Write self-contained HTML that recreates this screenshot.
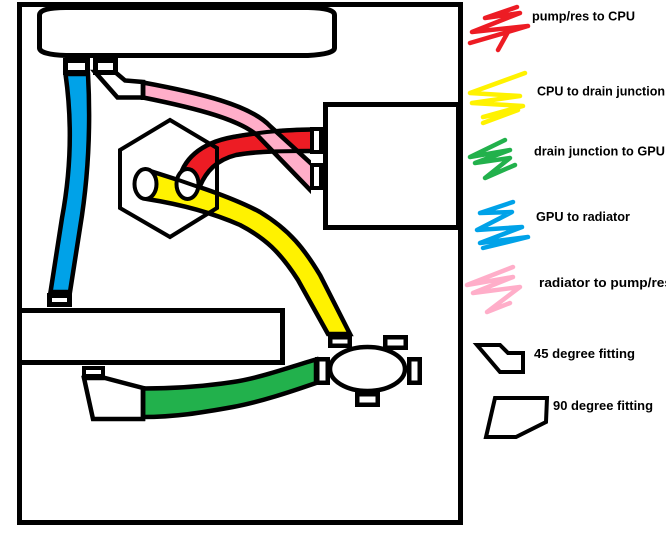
<!DOCTYPE html>
<html>
<head>
<meta charset="utf-8">
<style>
html,body{margin:0;padding:0;background:#fff;width:666px;height:535px;overflow:hidden;}
svg{display:block;}
text{font-family:"Liberation Sans",Arial,sans-serif;font-weight:bold;font-size:12.5px;fill:#000;}
</style>
</head>
<body>
<svg width="666" height="535" viewBox="0 0 666 535" xmlns="http://www.w3.org/2000/svg">
<defs>
<clipPath id="cpuclip"><rect x="0" y="0" width="311" height="535"/></clipPath>
</defs>
<rect x="0" y="0" width="666" height="535" fill="#fff"/>

<!-- case -->
<rect x="19.5" y="4.5" width="441" height="518" fill="none" stroke="#000" stroke-width="5"/>

<!-- reservoir -->
<path d="M39.5,15 Q40,7.5 66,7.5 L308,7.5 Q334.5,8 334.5,15 L334.5,48 Q334.5,54 308,55.5 L66,55.5 Q40,54.5 39.5,48 Z" fill="#fff" stroke="#000" stroke-width="5"/>

<!-- GPU box -->
<rect x="19.5" y="310.5" width="263" height="52" fill="#fff" stroke="#000" stroke-width="5"/>

<!-- CPU box -->
<rect x="325.5" y="104.5" width="133" height="123" fill="#fff" stroke="#000" stroke-width="5"/>

<!-- blue tube -->
<path d="M65.5,74 C72,120 71,170 62,218 L50.5,292 L70,292 L80,228 C88,180 91,130 88,74 Z" fill="#00A2E8" stroke="#000" stroke-width="4.5"/>

<!-- green tube -->
<path d="M316,359.5 C290,367 260,378 233,382 C200,387 170,388.5 143,388.5 L143,417 C175,417 200,413 233,407 C260,402 290,392 316,383 Z" fill="#22B14C" stroke="#000" stroke-width="4.5"/>

<!-- yellow tube -->
<path d="M147,170 C185,182 230,196 260,212 C290,230 305,250 320,275 L350,334 L328,334 L298,280 C280,252 265,238 240,225 C215,214 185,205 147,199 Z" fill="#FFF200" stroke="#000" stroke-width="4.5"/>

<g clip-path="url(#cpuclip)">
<!-- red tube -->
<path d="M179,182 C182,160 200,143 233,137 C260,132 285,129.5 314,129.5 L314,151 C285,151 258,151 236,155 C216,160 206,172 200,186 Z" fill="#ED1C24" stroke="#000" stroke-width="4.5"/>
<!-- pink tube -->
<path d="M143,82.5 C200,93 250,105 270,126 L316,168 L316,196 L258,136 C240,120 200,109 143,97.5 Z" fill="#FFAEC9" stroke="#000" stroke-width="4.5"/>
<!-- red outline over crossing -->
<path d="M233,137 C260,132 285,129.5 314,129.5 M314,151 C285,151 258,151 236,155" fill="none" stroke="#000" stroke-width="4"/>
</g>

<!-- top 45 deg fitting -->
<polygon points="95,72 117.5,97.5 143,97.5 143,82 125,80.5 115,72" fill="#fff" stroke="#000" stroke-width="4.5"/>
<line x1="143" y1="80" x2="143" y2="100" stroke="#000" stroke-width="4.5"/>

<!-- reservoir fittings -->
<rect x="65.5" y="60.5" width="22" height="12" fill="#fff" stroke="#000" stroke-width="5"/>
<rect x="95.5" y="60.5" width="20" height="12" fill="#fff" stroke="#000" stroke-width="5"/>

<!-- blue bottom fitting -->
<rect x="49.5" y="295.5" width="20" height="9" fill="#fff" stroke="#000" stroke-width="5"/>

<!-- GPU 90 deg fitting -->
<polygon points="84,378 93,419 143,419 143,388 105,378" fill="#fff" stroke="#000" stroke-width="4.5"/>
<line x1="143" y1="386" x2="143" y2="421" stroke="#000" stroke-width="4.5"/>
<rect x="84" y="368" width="19" height="8" fill="#fff" stroke="#000" stroke-width="4"/>

<!-- CPU fittings -->
<rect x="312" y="129" width="9" height="23" fill="#fff" stroke="#000" stroke-width="4"/>
<rect x="312" y="165" width="9" height="23" fill="#fff" stroke="#000" stroke-width="4"/>

<!-- ellipses at CPU -->
<ellipse cx="145.5" cy="184" rx="11" ry="15" fill="#fff" stroke="#000" stroke-width="4"/>
<ellipse cx="187.5" cy="184" rx="11" ry="15" fill="#fff" stroke="#000" stroke-width="4"/>
<line x1="177" y1="179.5" x2="200" y2="187.5" stroke="#000" stroke-width="4"/>

<!-- hexagon -->
<polygon points="170,120 217,148 217,208 170,237 120,208 120,150" fill="none" stroke="#000" stroke-width="4"/>

<!-- drain junction -->
<rect x="330.25" y="337.25" width="19.5" height="8.5" fill="#fff" stroke="#000" stroke-width="4.5"/>
<rect x="385.25" y="337.25" width="20.5" height="10.5" fill="#fff" stroke="#000" stroke-width="4.5"/>
<rect x="409.25" y="359.25" width="10.5" height="23.5" fill="#fff" stroke="#000" stroke-width="4.5"/>
<rect x="357.25" y="394.25" width="20.5" height="10.5" fill="#fff" stroke="#000" stroke-width="4.5"/>
<rect x="317.25" y="359.25" width="10.5" height="23.5" fill="#fff" stroke="#000" stroke-width="4.5"/>
<ellipse cx="367.5" cy="369" rx="37.5" ry="22" fill="#fff" stroke="#000" stroke-width="4.5"/>

<!-- legend scribbles -->
<g fill="none" stroke-width="4.5" stroke-linecap="round" stroke-linejoin="round">
<polyline stroke="#ED1C24" points="517,7 485,18 520,13 472,32 528,26 470,43 508,32 498,50"/>
<polyline stroke="#FFF200" points="525,73 470,93 520,96 472,103 523,106 483,117 518,110 483,123"/>
<polyline stroke="#22B14C" points="505,140 470,157 510,150 475,163 510,158 485,178 515,165"/>
<polyline stroke="#00A2E8" points="513,202 480,213 512,212 477,230 522,227 480,243 528,237 483,248"/>
<polyline stroke="#FFAEC9" points="513,267 467,285 513,277 473,293 520,287 487,312 510,303"/>
</g>

<!-- legend icons -->
<polygon points="477,345 500,345 508,353 523,353 523,372 500,372" fill="#fff" stroke="#000" stroke-width="4"/>
<polygon points="495,398 547,398 546,422 516,437 486,437" fill="#fff" stroke="#000" stroke-width="4"/>

<!-- legend text -->
<text x="532" y="20.5" textLength="103" lengthAdjust="spacingAndGlyphs">pump/res to CPU</text>
<text x="537" y="95.5" textLength="128" lengthAdjust="spacingAndGlyphs">CPU to drain junction</text>
<text x="534" y="155.5" textLength="131" lengthAdjust="spacingAndGlyphs">drain junction to GPU</text>
<text x="536" y="221" textLength="94" lengthAdjust="spacingAndGlyphs">GPU to radiator</text>
<text x="539" y="287" textLength="133" lengthAdjust="spacingAndGlyphs">radiator to pump/res</text>
<text x="534" y="358" textLength="101" lengthAdjust="spacingAndGlyphs">45 degree fitting</text>
<text x="553" y="410" textLength="100" lengthAdjust="spacingAndGlyphs">90 degree fitting</text>
</svg>
</body>
</html>
